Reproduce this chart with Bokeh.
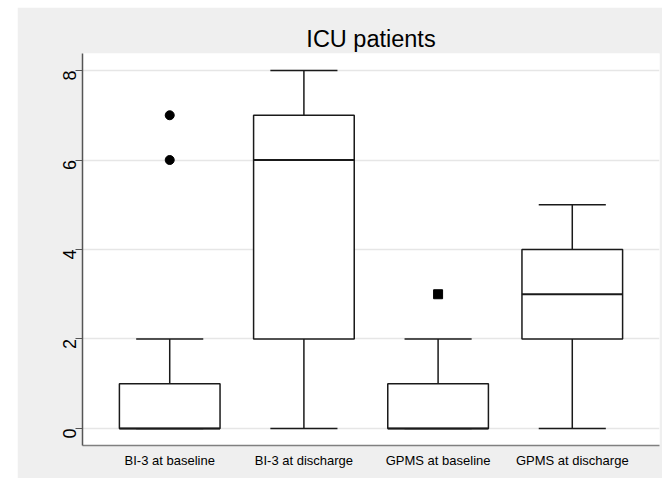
from bokeh.plotting import figure
from bokeh.models import FixedTicker, Range1d, ColumnDataSource
from bokeh.embed import file_html
from bokeh.resources import INLINE
import math

# ---- data ----
groups = ["BI-3 at baseline", "BI-3 at discharge", "GPMS at baseline", "GPMS at discharge"]
positions = [1, 2, 3, 4]
lower_whisker = [0, 0, 0, 0]
q1 = [0, 2, 0, 2]
median = [0, 6, 0, 3]
q3 = [1, 7, 1, 4]
upper_whisker = [2, 8, 2, 5]
outlier_pos = [1, 1, 3]
outlier_val = [7, 6, 3]
outlier_marker = ["circle", "circle", "square"]
y_ticks = [0, 2, 4, 6, 8]

FONT = "Liberation Sans"
BOX_W = 0.75
CAP_W = 0.5
LINE = "#1a1a1a"

p = figure(width=645, height=471, output_backend="svg", toolbar_location=None,
           x_range=Range1d(0.35, 4.65), y_range=Range1d(-0.38, 8.38),
           min_border_left=65, min_border_right=3, min_border_top=46, min_border_bottom=33)
p.margin = (7, 0, 0, 17)
p.background_fill_color = "white"
p.border_fill_color = "#efefef"
p.outline_line_color = None

p.title.text = "ICU patients"
p.title.align = "center"
p.title.text_font = FONT
p.title.text_font_size = "23.5px"
p.title.text_font_style = "normal"
p.title.text_color = "black"
p.title.standoff = 4

src = ColumnDataSource(dict(
    x=positions, lw=lower_whisker, q1=q1, med=median, q3=q3, uw=upper_whisker,
    left=[x - BOX_W / 2 for x in positions], right=[x + BOX_W / 2 for x in positions],
    cl=[x - CAP_W / 2 for x in positions], cr=[x + CAP_W / 2 for x in positions],
))

# whiskers
p.segment(x0="x", y0="q3", x1="x", y1="uw", source=src, line_color=LINE, line_width=1.5)
p.segment(x0="x", y0="q1", x1="x", y1="lw", source=src, line_color=LINE, line_width=1.5)
# caps
p.segment(x0="cl", y0="uw", x1="cr", y1="uw", source=src, line_color=LINE, line_width=1.5)
p.segment(x0="cl", y0="lw", x1="cr", y1="lw", source=src, line_color=LINE, line_width=1.5)
# boxes
p.quad(left="left", right="right", bottom="q1", top="q3", source=src,
       fill_color="white", line_color=LINE, line_width=1.5)
# medians
p.segment(x0="left", y0="med", x1="right", y1="med", source=src, line_color=LINE, line_width=2.2)
# outliers
osrc = ColumnDataSource(dict(x=outlier_pos, y=outlier_val, m=outlier_marker))
p.scatter(x="x", y="y", marker="m", source=osrc, size=9, fill_color="black", line_color="black")

# axes
p.xaxis.ticker = FixedTicker(ticks=positions)
p.xaxis.major_label_overrides = {x: g for x, g in zip(positions, groups)}
p.xaxis.major_tick_out = 0
p.xaxis.major_tick_in = 0
p.xaxis.minor_tick_out = 0
p.xaxis.minor_tick_in = 0
p.xaxis.axis_line_color = "#808080"
p.xaxis.axis_line_width = 1.5
p.xaxis.major_label_text_font = FONT
p.xaxis.major_label_text_font_size = "13px"
p.xaxis.major_label_text_color = "black"
p.xaxis.major_label_standoff = 7

p.yaxis.ticker = FixedTicker(ticks=y_ticks)
p.yaxis.major_tick_out = 7
p.yaxis.major_tick_in = 0
p.yaxis.minor_tick_out = 0
p.yaxis.minor_tick_in = 0
p.yaxis.axis_line_color = "#555555"
p.yaxis.axis_line_width = 1.5
p.yaxis.major_tick_line_color = "#555555"
p.yaxis.major_tick_line_width = 1.2
p.yaxis.major_label_orientation = math.pi / 2
p.yaxis.major_label_text_font = FONT
p.yaxis.major_label_text_font_size = "18px"
p.yaxis.major_label_text_color = "black"
p.yaxis.major_label_standoff = 6

p.xgrid.grid_line_color = None
p.ygrid.ticker = FixedTicker(ticks=y_ticks)
p.ygrid.grid_line_color = "#e6e6e6"
p.ygrid.grid_line_width = 1.5

open("out.html", "w").write(file_html(p, INLINE))
